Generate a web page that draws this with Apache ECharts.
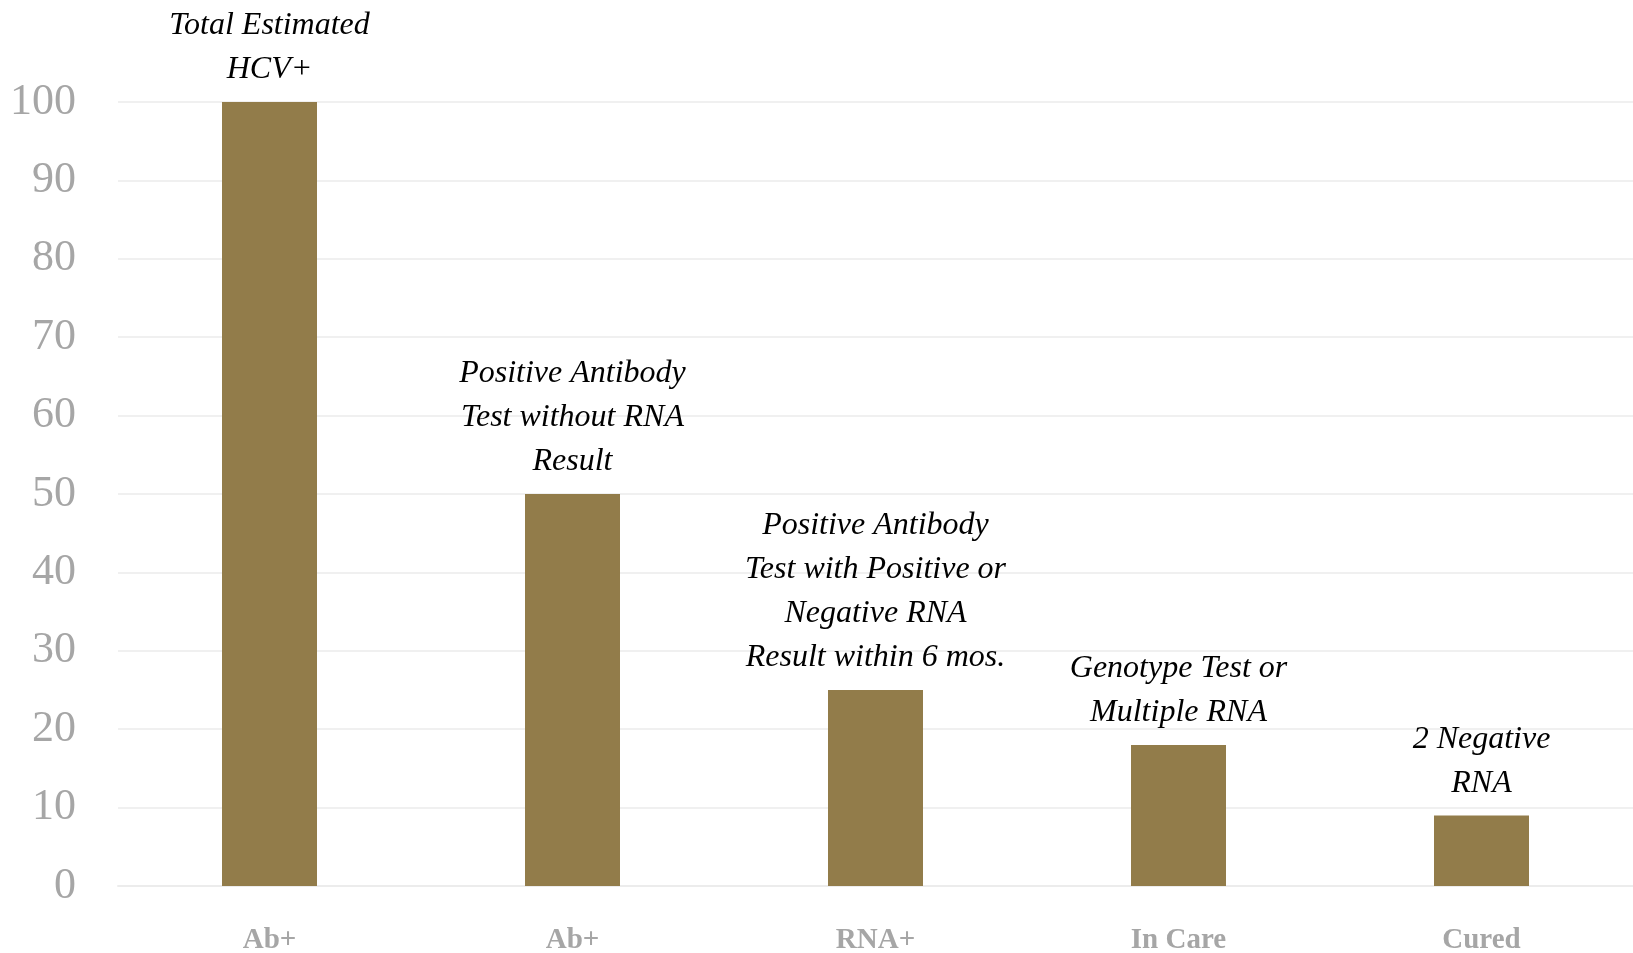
<!DOCTYPE html>
<html>
<head>
<meta charset="utf-8">
<script src="https://cdn.jsdelivr.net/npm/echarts@6/dist/echarts.min.js"></script>
<style>html,body{margin:0;padding:0;background:#fff;}#c{width:1633px;height:953px;}</style>
</head>
<body>
<div id="c"></div>
<script>
const categories = ['Ab+', 'Ab+', 'RNA+', 'In Care', 'Cured'];
const values = [100, 50, 25, 18, 9];
const barLabels = [
  'Total Estimated\nHCV+',
  'Positive Antibody\nTest without RNA\nResult',
  'Positive Antibody\nTest with Positive or\nNegative RNA\nResult within 6 mos.',
  'Genotype Test or\nMultiple RNA',
  '2 Negative\nRNA'
];
const yTicks = { min: 0, max: 100, interval: 10 };

const chart = echarts.init(document.getElementById('c'));
chart.setOption({
  animation: false,
  grid: { left: 118, right: 0, top: 102, bottom: 67, containLabel: false, outerBoundsMode: 'none' },
  xAxis: {
    type: 'category',
    data: categories,
    axisLine: { show: true, lineStyle: { color: '#ececec', width: 2 } },
    axisTick: { show: false },
    axisLabel: { color: '#a6a6a6', fontFamily: 'Liberation Serif', fontWeight: 'bold', fontSize: 29, margin: 40 }
  },
  yAxis: {
    type: 'value',
    min: yTicks.min, max: yTicks.max, interval: yTicks.interval,
    axisLine: { show: false },
    axisTick: { show: false },
    splitLine: { lineStyle: { color: '#f0f0f0', width: 2 } },
    axisLabel: { color: '#a6a6a6', fontFamily: 'Liberation Serif', fontSize: 44, margin: 42 }
  },
  series: [{
    type: 'bar',
    data: values.map((v, i) => ({
      value: v,
      label: { formatter: barLabels[i] }
    })),
    barWidth: 95,
    itemStyle: { color: '#927c4a' },
    label: {
      show: true,
      position: 'top',
      distance: 10,
      color: '#000',
      fontFamily: 'Liberation Serif',
      fontStyle: 'italic',
      fontSize: 32,
      lineHeight: 44,
      align: 'center'
    }
  }]
});
</script>
</body>
</html>
